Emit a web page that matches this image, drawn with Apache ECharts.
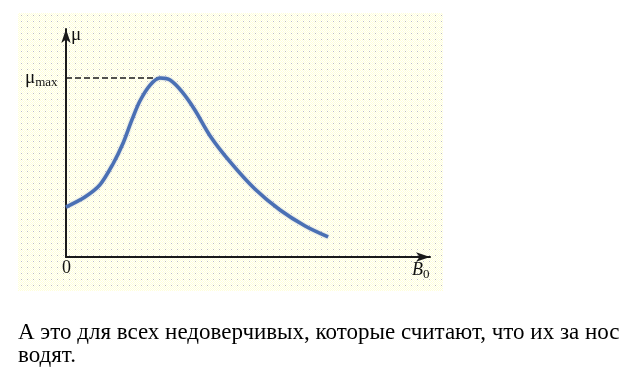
<!DOCTYPE html>
<html><head><meta charset="utf-8">
<script src="https://cdn.jsdelivr.net/npm/echarts@6/dist/echarts.min.js"></script>
<style>html,body{margin:0;padding:0;background:#fff}#c{width:638px;height:377px}</style>
</head><body><div id="c"></div>
<script>
// curve (x: B0 in arbitrary units 0..100, y: mu 0..100)
var curveX = [0, 5.2, 9.3, 12.9, 15.7, 18.1, 20.3, 23.1, 25.8, 28.6, 31.9, 35.4, 39.6, 45.1, 51.9, 58.8, 65.7, 72.0];
var curveY = [21.9, 26.3, 31.6, 40.8, 50.0, 60.1, 68.4, 75.4, 78.5, 77.6, 72.4, 64.5, 53.1, 41.7, 29.8, 20.6, 13.6, 8.8];
var peakX = 25.8, peakY = 78.5;
var captionLines = ['А это для всех недоверчивых, которые считают, что их за нос', 'водят.'];

var tile = document.createElement('canvas');
tile.width = 6; tile.height = 6;
var g = tile.getContext('2d');
for (var i = 0; i < 6; i++) for (var j = 0; j < 6; j++) {
  g.fillStyle = ((i + j) % 2) ? '#ffffff' : '#ffffd8';
  g.fillRect(i, j, 1, 1);
}
g.fillStyle = '#c0c0b8'; g.fillRect(3, 3, 1, 1);

var serif = 'Liberation Serif';
var chart = echarts.init(document.getElementById('c'), null, {renderer: 'canvas'});
var pts = curveX.map(function (x, i) { return [x, curveY[i]]; });
chart.setOption({
  animation: false,
  backgroundColor: '#ffffff',
  grid: {left: 66, right: 638 - 430, top: 29, bottom: 377 - 257},
  xAxis: {type: 'value', min: 0, max: 100, splitLine: {show: false}, axisTick: {show: false}, axisLabel: {show: false},
    axisLine: {lineStyle: {color: '#1a1a1a', width: 2}, symbol: ['none', 'arrow'], symbolSize: [7, 14], symbolOffset: [0, 0]}},
  yAxis: {type: 'value', min: 0, max: 100, splitLine: {show: false}, axisTick: {show: false}, axisLabel: {show: false},
    axisLine: {lineStyle: {color: '#1a1a1a', width: 2}, symbol: ['none', 'arrow'], symbolSize: [7, 14], symbolOffset: [0, 0]}},
  graphic: [
    {type: 'rect', z: -10, shape: {x: 18, y: 13, width: 425, height: 278}, style: {fill: {image: tile, repeat: 'repeat'}}},
    {type: 'text', left: 71, top: 26, style: {text: 'μ', fontFamily: serif, fontSize: 19, fill: '#111'}},
    {type: 'text', left: 25, top: 69, style: {text: '{a|μ}{b|max}', rich: {a: {fontFamily: serif, fontSize: 19, fill: '#111'}, b: {fontFamily: serif, fontSize: 13, fill: '#111', padding: [9, 0, 0, 0]}}}},
    {type: 'text', left: 62, top: 259, style: {text: '0', fontFamily: serif, fontSize: 18, fill: '#111'}},
    {type: 'text', left: 412, top: 261, style: {text: '{a|B}{b|0}', rich: {a: {fontFamily: serif, fontStyle: 'italic', fontSize: 18, fill: '#111'}, b: {fontFamily: serif, fontSize: 13, fill: '#111', padding: [9, 0, 0, 0]}}}},
    {type: 'text', left: 18, top: 321, style: {text: captionLines[0], fontFamily: serif, fontSize: 23, fill: '#000'}},
    {type: 'text', left: 18, top: 344, style: {text: captionLines[1], fontFamily: serif, fontSize: 23, fill: '#000'}}
  ],
  series: [
    {type: 'line', data: [[0, peakY], [peakX, peakY]], symbol: 'none', z: 1,
      lineStyle: {color: '#1a1a1a', width: 1.5, type: [6, 3]}},
    {type: 'line', data: pts, smooth: 0.3, symbol: 'none', z: 2,
      lineStyle: {color: '#4a70b4', width: 3.5, shadowColor: 'rgba(120,140,200,0.6)', shadowBlur: 2}}
  ]
});
</script></body></html>
